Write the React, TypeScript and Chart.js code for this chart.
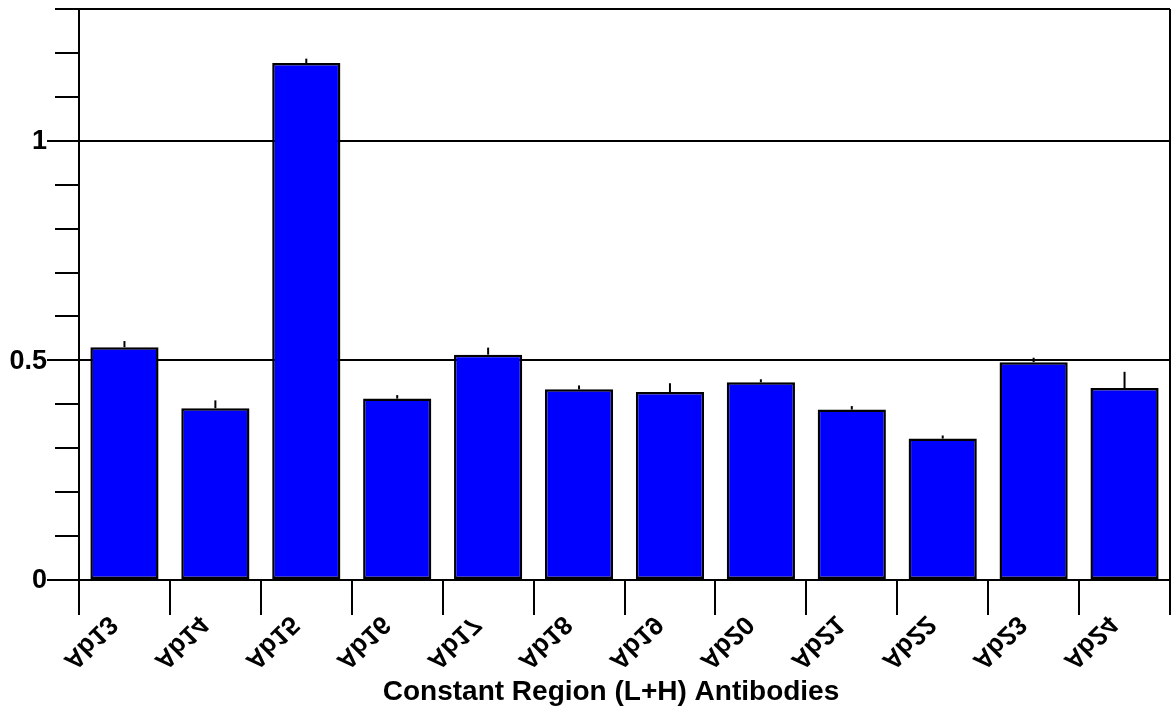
import React, { useEffect, useRef } from "react";
import { Chart, registerables } from "chart.js";

Chart.register(...registerables);

const categories = ["Ab13", "Ab14", "Ab15", "Ab16", "Ab17", "Ab18", "Ab19", "Ab20", "Ab21", "Ab22", "Ab23", "Ab24"];
const values = [0.53, 0.391, 1.177, 0.413, 0.513, 0.434, 0.428, 0.45, 0.388, 0.322, 0.496, 0.437];
const errors = [0.014, 0.018, 0.01, 0.008, 0.016, 0.009, 0.02, 0.007, 0.008, 0.007, 0.01, 0.037];
const yGridValues = [0.5, 1];
const yLabelValues = [0, 0.5, 1];
const yLabelTexts = ["0", "0.5", "1"];
const xTitle = "Constant Region (L+H) Antibodies";

const FONT = '"Liberation Sans", Arial, sans-serif';

const customPlugin = {
  id: "customAxes",
  afterDatasetsDraw(chart: any) {
    const { ctx, scales } = chart;
    const y = scales.y;
    const meta = chart.getDatasetMeta(0);
    ctx.save();
    ctx.strokeStyle = "#000";
    ctx.lineWidth = 2;
    meta.data.forEach((bar: any, i: number) => {
      const top = y.getPixelForValue(values[i] + errors[i]);
      ctx.beginPath();
      ctx.moveTo(bar.x, bar.y);
      ctx.lineTo(bar.x, top);
      ctx.stroke();
    });
    ctx.restore();
  },
  afterDraw(chart: any) {
    const { ctx, chartArea: a, scales } = chart;
    const x = scales.x;
    const y = scales.y;
    ctx.save();
    ctx.strokeStyle = "#000";
    ctx.lineWidth = 2;
    ctx.lineCap = "butt";
    // y tick marks
    y.ticks.forEach((t: any) => {
      const v = t.value;
      const py = Math.round(y.getPixelForValue(v));
      const major = Math.abs(v * 2 - Math.round(v * 2)) < 1e-6 && v < 1.2;
      ctx.beginPath();
      ctx.moveTo(major ? a.left - 32 : a.left - 24, py);
      ctx.lineTo(a.left, py);
      ctx.stroke();
    });
    // top border
    ctx.beginPath();
    ctx.moveTo(a.left, a.top);
    ctx.lineTo(a.right, a.top);
    ctx.stroke();
    // bottom axis
    ctx.beginPath();
    ctx.moveTo(a.left - 32, a.bottom);
    ctx.lineTo(a.right, a.bottom);
    ctx.stroke();
    // category boundary ticks + right border
    const step = x.getPixelForValue(1) - x.getPixelForValue(0);
    for (let i = 0; i <= categories.length; i++) {
      const px = Math.round(x.getPixelForValue(0) - step / 2 + i * step);
      ctx.beginPath();
      ctx.moveTo(px, i === categories.length ? a.top : a.bottom);
      ctx.lineTo(px, a.bottom + 35);
      ctx.stroke();
    }
    // y labels
    ctx.fillStyle = "#000";
    ctx.font = `bold 27px ${FONT}`;
    ctx.textAlign = "right";
    ctx.textBaseline = "middle";
    yLabelValues.forEach((v, i) => {
      ctx.fillText(yLabelTexts[i], a.left - 32, y.getPixelForValue(v) + 1);
    });
    // flipped x tick labels
    ctx.font = `bold 26px ${FONT}`;
    categories.forEach((lab, i) => {
      const tickX = x.getPixelForValue(i) - step / 2;
      ctx.save();
      ctx.translate(tickX + 11, a.bottom + 62);
      ctx.rotate(-Math.PI / 4);
      ctx.scale(1, -1);
      ctx.textAlign = "center";
      ctx.textBaseline = "middle";
      ctx.fillText(lab, 0, 0);
      ctx.restore();
    });
    // x title
    ctx.font = `bold 28px ${FONT}`;
    ctx.textAlign = "center";
    ctx.textBaseline = "alphabetic";
    ctx.fillText(xTitle, 611, 700);
    ctx.restore();
  },
};

export default function App() {
  const ref = useRef<HTMLCanvasElement | null>(null);
  useEffect(() => {
    document.body.style.margin = "0";
    const canvas = ref.current;
    if (!canvas) return;
    const chart = new Chart(canvas, {
      type: "bar",
      data: {
        labels: categories,
        datasets: [
          {
            data: values,
            backgroundColor: "#0000FF",
            borderColor: "#000",
            borderWidth: 2.5,
            borderSkipped: false,
            barPercentage: 0.75,
            categoryPercentage: 1,
          },
        ],
      },
      options: {
        responsive: false,
        animation: false,
        devicePixelRatio: 1,
        layout: { padding: { top: 9, right: 5, left: 0, bottom: 0 } },
        plugins: { legend: { display: false }, tooltip: { enabled: false } },
        scales: {
          x: {
            type: "category",
            offset: true,
            grid: { display: false },
            border: { display: false },
            ticks: { display: false },
            afterFit: (s: any) => {
              s.height = 128;
            },
          },
          y: {
            min: 0,
            max: 1.3,
            ticks: { display: false, stepSize: 0.1 },
            grid: {
              drawTicks: false,
              lineWidth: 2,
              color: (c: any) =>
                c.tick && yGridValues.some((g) => Math.abs(g - c.tick.value) < 1e-6) ? "#000" : "rgba(0,0,0,0)",
            },
            border: { display: true, color: "#000", width: 2 },
            afterFit: (s: any) => {
              s.width = 79;
            },
          },
        },
      },
      plugins: [customPlugin],
    });
    return () => chart.destroy();
  }, []);
  return (
    <div style={{ position: "fixed", left: 0, top: 0, width: 1175, height: 708, background: "#fff" }}>
      <canvas ref={ref} width={1175} height={708} style={{ display: "block" }} />
    </div>
  );
}
